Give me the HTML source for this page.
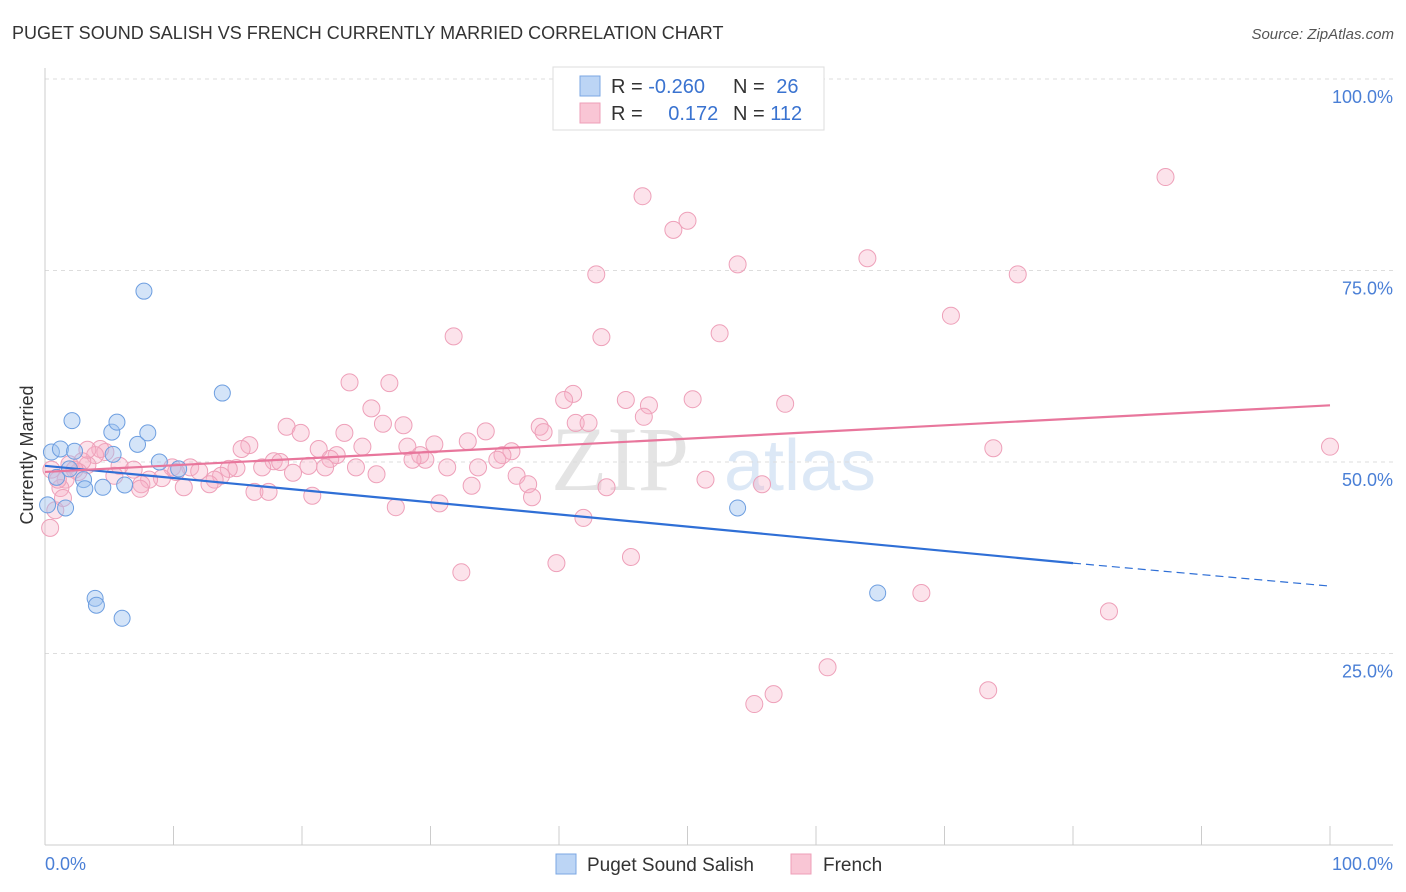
<!DOCTYPE html>
<html><head><meta charset="utf-8"><style>
body{margin:0;background:#fff;font-family:"Liberation Sans",sans-serif;}
svg{display:block}
</style></head><body>
<svg id="c" width="1406" height="892">
<text x="12" y="39" font-size="18" fill="#333">PUGET SOUND SALISH VS FRENCH CURRENTLY MARRIED CORRELATION CHART</text>
<text x="1394" y="39" font-size="15" fill="#555" font-style="italic" text-anchor="end">Source: ZipAtlas.com</text>
<text x="620" y="490" font-size="92" fill="#e4e4e4" font-family="Liberation Serif,serif" text-anchor="middle">ZIP</text>
<text x="800" y="490" font-size="72" fill="#dce8f6" text-anchor="middle">atlas</text>
<g id="grid"></g><g id="marks"></g>
<text transform="translate(33,455) rotate(-90)" font-size="18" fill="#333" text-anchor="middle">Currently Married</text>
<g>
<rect x="553" y="67" width="271" height="63" fill="#fff" stroke="#ddd"/>
<rect x="580" y="76" width="20" height="20" fill="#bcd5f5" stroke="#7ba7e3"/>
<rect x="580" y="103" width="20" height="20" fill="#f9c6d5" stroke="#ee9fb8"/>
<text x="611" y="93" font-size="20" fill="#333">R = <tspan fill="#3a73d0">-0.260</tspan></text>
<text x="733" y="93" font-size="20" fill="#333">N = <tspan fill="#3a73d0" dx="6">26</tspan></text>
<text x="611" y="120" font-size="20" fill="#333">R = <tspan fill="#3a73d0" dx="20">0.172</tspan></text>
<text x="733" y="120" font-size="20" fill="#333">N = <tspan fill="#3a73d0">112</tspan></text>
</g>
<g>
<rect x="556" y="854" width="20" height="20" fill="#bcd5f5" stroke="#7ba7e3"/>
<text x="587" y="871" font-size="19" fill="#333">Puget Sound Salish</text>
<rect x="791" y="854" width="20" height="20" fill="#f9c6d5" stroke="#ee9fb8"/>
<text x="823" y="871" font-size="19" fill="#333">French</text>
</g>
</svg>
<script>
const yTicks=[100,75,50,25];
const yTickLabels=["100.0%","75.0%","50.0%","25.0%"];
const xTickCount=[0,10,20,30,40,50,60,70,80,90,100];
const xEndLabels=["0.0%","100.0%"];
const puget_x=[0.5,1.2,2.1,2.3,0.9,1.6,1.9,3.0,3.1,4.5,5.2,5.6,5.3,6.2,7.2,8.0,7.7,8.9,10.4,13.8,3.9,4.0,6.0,53.9,64.8,0.2];
const puget_y=[51.3,51.7,55.4,51.4,48.0,44.0,49.1,47.7,46.5,46.7,53.9,55.2,51.0,47.0,52.3,53.8,72.3,50.0,49.1,59.0,32.2,31.3,29.6,44.0,32.9,44.4];
const french_x=[46.5,87.2,50.0,48.9,42.9,53.9,64.0,75.7,31.8,43.3,52.5,70.5,23.7,26.8,41.1,40.4,45.2,47.0,50.4,57.6,46.6,25.4,27.9,18.8,19.9,26.3,41.3,42.3,38.5,38.8,34.3,32.9,23.3,24.7,21.3,22.7,15.9,15.3,28.2,30.3,36.3,35.6,29.2,29.6,35.2,28.6,31.3,33.7,24.2,25.8,22.2,21.8,20.5,19.3,17.8,18.3,16.9,14.9,14.3,13.7,13.2,12.8,11.3,12.0,10.8,9.9,10.2,9.1,8.1,7.5,7.4,6.9,5.8,5.4,4.7,4.3,3.9,3.3,2.9,2.6,1.9,1.6,1.2,0.8,0.4,1.4,16.3,17.4,20.8,27.3,30.7,33.2,36.7,37.6,37.9,43.7,51.4,55.8,73.8,100.0,32.4,39.8,45.6,41.9,68.2,82.8,60.9,56.7,55.2,73.4,1.0,0.5,2.3,3.3];
const french_y=[84.7,87.2,81.5,80.3,74.5,75.8,76.6,74.5,66.4,66.3,66.8,69.1,60.4,60.3,58.9,58.1,58.1,57.4,58.2,57.6,55.9,57.0,54.8,54.6,53.8,55.0,55.1,55.1,54.6,53.9,54.0,52.7,53.8,52.0,51.7,50.9,52.2,51.7,52.0,52.3,51.4,50.9,50.9,50.3,50.3,50.3,49.3,49.3,49.3,48.4,50.4,49.3,49.5,48.6,50.1,50.0,49.3,49.2,49.1,48.2,47.7,47.1,49.3,48.8,46.7,49.3,48.7,47.9,47.7,47.1,46.5,49.0,49.5,48.2,51.3,51.7,50.9,49.6,50.1,48.7,49.7,47.7,46.6,43.7,41.4,45.3,46.1,46.1,45.6,44.1,44.6,46.9,48.2,47.1,45.4,46.7,47.7,47.1,51.8,52.0,35.6,36.8,37.6,42.7,32.9,30.5,23.2,19.7,18.4,20.2,47.7,49.0,49.0,51.6];
const pugetTrendX=[0,80,100];
const pugetTrendY=[49.5,36.8,33.8];
const frenchTrendX=[0,100];
const frenchTrendY=[48.7,57.4];

const NS="http://www.w3.org/2000/svg";
const X=v=>45+v*12.85, Y=v=>845-v*7.66;
function mk(p,t,a){const e=document.createElementNS(NS,t);for(const k in a)e.setAttribute(k,a[k]);p.appendChild(e);return e;}
const g=document.getElementById('grid'), m=document.getElementById('marks');
mk(g,'line',{x1:45,y1:79,x2:1393,y2:79,stroke:'#ddd','stroke-dasharray':'4,4'});
yTicks.forEach((t,i)=>{
  const l=mk(g,'line',{x1:45,y1:Y(t),x2:1393,y2:Y(t),stroke:'#ddd','stroke-dasharray':'4,4'});
  
  
  const tx=mk(g,'text',{x:1393,y:Y(t)+24,'font-size':18,fill:'#4a7fd6','text-anchor':'end'});
  tx.textContent=yTickLabels[i];
  
  
});
mk(g,'line',{x1:45,y1:68,x2:45,y2:845,stroke:'#ccc'});
mk(g,'line',{x1:45,y1:845,x2:1393,y2:845,stroke:'#ccc'});
xTickCount.forEach(t=>{
  const l=mk(g,'line',{x1:X(t),y1:826,x2:X(t),y2:845,stroke:'#ccc'});
  
  
});
const xl0=mk(g,'text',{x:45,y:870,'font-size':18,fill:'#4a7fd6'});xl0.textContent=xEndLabels[0];


const xl1=mk(g,'text',{x:1393,y:870,'font-size':18,fill:'#4a7fd6','text-anchor':'end'});xl1.textContent=xEndLabels[1];



french_x.forEach((x,i)=>{
  const c=mk(m,'circle',{cx:X(x),cy:Y(french_y[i]),r:8.5,fill:'rgba(246,175,198,0.35)',stroke:'#eea0b9','stroke-width':1});
  
  
});
puget_x.forEach((x,i)=>{
  const c=mk(m,'circle',{cx:X(x),cy:Y(puget_y[i]),r:8,fill:'rgba(160,195,240,0.45)',stroke:'#6d9ee0','stroke-width':1});
  
  
});
const pb=mk(m,'line',{x1:X(pugetTrendX[0]),y1:Y(pugetTrendY[0]),x2:X(pugetTrendX[1]),y2:Y(pugetTrendY[1]),stroke:'#2f6fd6','stroke-width':2.2});


const pd=mk(m,'line',{x1:X(pugetTrendX[1]),y1:Y(pugetTrendY[1]),x2:X(pugetTrendX[2]),y2:Y(pugetTrendY[2]),stroke:'#2f6fd6','stroke-width':1.2,'stroke-dasharray':'8,5'});


const fl=mk(m,'line',{x1:X(frenchTrendX[0]),y1:Y(frenchTrendY[0]),x2:X(frenchTrendX[1]),y2:Y(frenchTrendY[1]),stroke:'#e8769c','stroke-width':2.2});


</script>
</body></html>
